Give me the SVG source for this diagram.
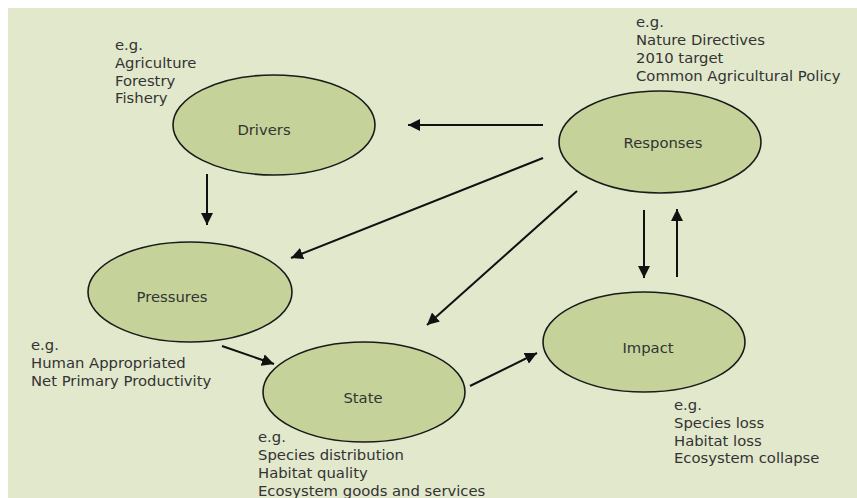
<svg xmlns="http://www.w3.org/2000/svg" width="857" height="498" viewBox="0 0 857 498">
<defs>
<marker id="ah" markerUnits="userSpaceOnUse" markerWidth="14" markerHeight="12" refX="12" refY="6" orient="auto">
<path d="M0,0 L12,6 L0,12 Z" fill="#111"/>
</marker>
<style>
.n ellipse{fill:#c5d39a;stroke:#1a1a1a;stroke-width:1.6}
.lb{font-family:"DejaVu Sans",Verdana,sans-serif;font-size:14.8px;fill:#333;text-anchor:middle}
.t{font-family:"DejaVu Sans",Verdana,sans-serif;font-size:14.8px;fill:#333}
#conn line{stroke:#111;stroke-width:2;marker-end:url(#ah)}
</style>
</defs>
<rect width="857" height="498" fill="#fff"/>
<rect x="8" y="8" width="849" height="490" fill="#e2e8cc"/>
<g id="conn">
<line x1="543" y1="125" x2="408" y2="125"/>
<line x1="543" y1="158" x2="291" y2="258"/>
<line x1="577" y1="191" x2="427" y2="325"/>
<line x1="644" y1="210" x2="644" y2="278"/>
<line x1="677" y1="277" x2="677" y2="209"/>
<line x1="207" y1="174" x2="207" y2="225"/>
<line x1="222" y1="346" x2="274" y2="364"/>
<line x1="470" y1="386" x2="537" y2="353"/>
</g>
<g id="drivers" class="n">
<ellipse cx="274" cy="125" rx="101" ry="50"/>
<text class="lb" x="264" y="135">Drivers</text>
</g>
<g id="responses" class="n">
<ellipse cx="660" cy="142" rx="101" ry="51"/>
<text class="lb" x="663" y="148">Responses</text>
</g>
<g id="pressures" class="n">
<ellipse cx="190" cy="292" rx="102" ry="50"/>
<text class="lb" x="172" y="302">Pressures</text>
</g>
<g id="state" class="n">
<ellipse cx="364" cy="392" rx="101" ry="50"/>
<text class="lb" x="363" y="403">State</text>
</g>
<g id="impact" class="n">
<ellipse cx="644" cy="342" rx="101" ry="50"/>
<text class="lb" x="648" y="353">Impact</text>
</g>
<g id="notes">
<text class="t" x="115" y="50">e.g.</text>
<text class="t" x="115" y="68">Agriculture</text>
<text class="t" x="115" y="86">Forestry</text>
<text class="t" x="115" y="103">Fishery</text>
<text class="t" x="636" y="27">e.g.</text>
<text class="t" x="636" y="45">Nature Directives</text>
<text class="t" x="636" y="63">2010 target</text>
<text class="t" x="636" y="81">Common Agricultural Policy</text>
<text class="t" x="31" y="350">e.g.</text>
<text class="t" x="31" y="368">Human Appropriated</text>
<text class="t" x="31" y="386">Net Primary Productivity</text>
<text class="t" x="258" y="442">e.g.</text>
<text class="t" x="258" y="460">Species distribution</text>
<text class="t" x="258" y="478">Habitat quality</text>
<text class="t" x="258" y="496">Ecosystem goods and services</text>
<text class="t" x="674" y="410">e.g.</text>
<text class="t" x="674" y="428">Species loss</text>
<text class="t" x="674" y="446">Habitat loss</text>
<text class="t" x="674" y="463">Ecosystem collapse</text>
</g>
</svg>
